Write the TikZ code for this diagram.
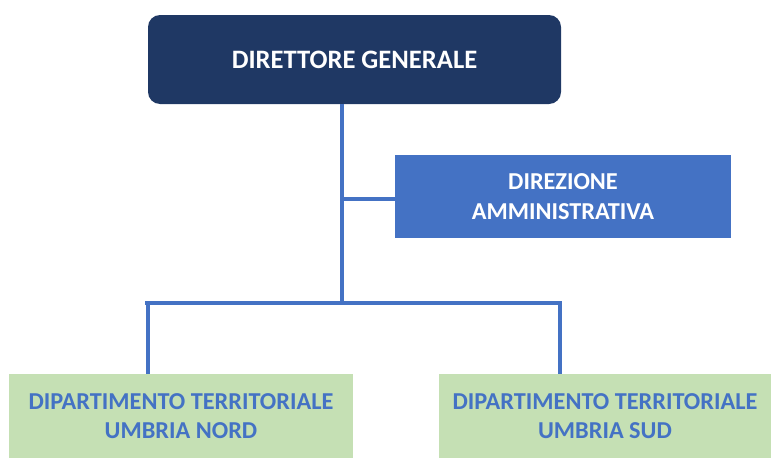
\documentclass[tikz,border=0pt]{standalone}
\usepackage{fontspec}
\setmainfont{Carlito}
\usepackage{xcolor}
\usetikzlibrary{positioning}

\definecolor{navy}{HTML}{1F3864}
\definecolor{midblue}{HTML}{4472C4}
\definecolor{palegreen}{HTML}{C5E0B4}

\tikzset{
    box/.style={inner sep=0pt, align=center, font=\bfseries\fontsize{24.3}{29.5}\selectfont},
    link/.style={draw=midblue, line width=3.5pt}
}

\begin{document}
\begin{tikzpicture}[x=1pt, y=-1pt]
    \useasboundingbox (0,0) rectangle (771,458);

    % Boxes
    \node[box, fill=navy, text=white, rounded corners=12pt, font=\bfseries\fontsize{26.6}{30}\selectfont,
          minimum width=413pt, minimum height=89pt] (dg) at (354.5,59.5) {DIRETTORE GENERALE};
    \node[box, fill=midblue, text=white,
          minimum width=336pt, minimum height=83pt] (da) at (563,196.5) {DIREZIONE\\AMMINISTRATIVA};
    \node[box, fill=palegreen, text=midblue,
          minimum width=344pt, minimum height=84pt] (nord) at (181,416) {DIPARTIMENTO TERRITORIALE\\UMBRIA NORD};
    \node[box, fill=palegreen, text=midblue,
          minimum width=332pt, minimum height=84pt] (sud) at (605,416) {DIPARTIMENTO TERRITORIALE\\UMBRIA SUD};

    % Connectors
    \coordinate (hub) at (342,303);
    \coordinate (busl) at (148,303);
    \coordinate (busr) at (560,303);
    \coordinate (tap) at (342,199);
    \draw[link] (dg.south -| hub) -- (hub);
    \draw[link] (tap) -- (tap -| da.west);
    \draw[link] ([xshift=-3pt]busl) -- ([xshift=1.75pt]busr);
    \draw[link] (busl) -- (nord.north -| busl);
    \draw[link] (busr) -- (sud.north -| busr);
\end{tikzpicture}
\end{document}
